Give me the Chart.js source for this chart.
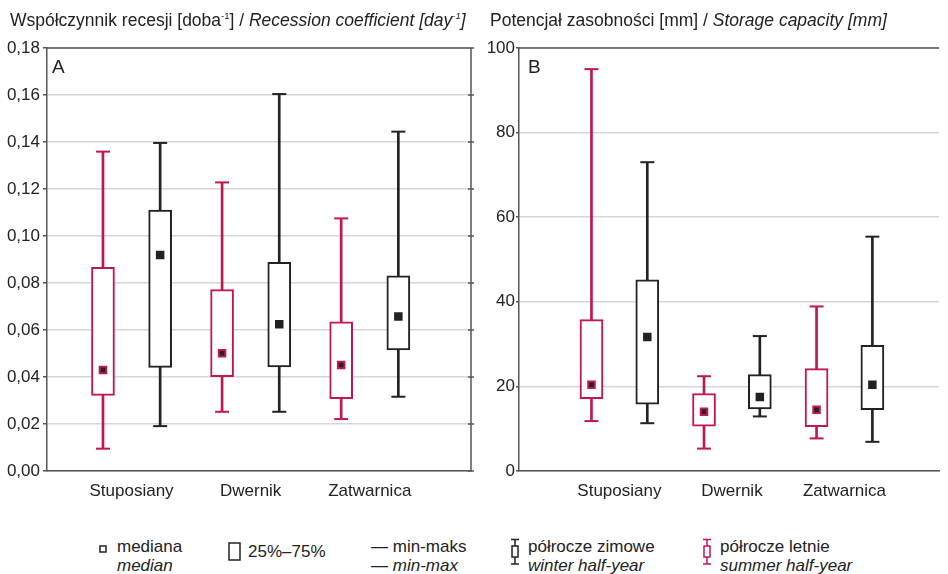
<!DOCTYPE html>
<html>
<head>
<meta charset="utf-8">
<script src="https://cdn.jsdelivr.net/npm/chart.js@4.4.1/dist/chart.umd.min.js"></script>
<style>
  body { margin: 0; background: #fff; font-family: "Liberation Sans", Arial, sans-serif; color: #222; }
  #page { position: relative; width: 948px; height: 574px; overflow: hidden; }
  .panel { position: absolute; top: 0; height: 515px; }
  .title { position: absolute; top: 10px; font-size: 17.5px; white-space: nowrap; }
  .title sup { font-size: 9.5px; vertical-align: 7px; line-height: 0; }
  .letter { position: absolute; top: 56px; font-size: 19px; }
  .leg { position: absolute; font-size: 17px; line-height: 19px; white-space: nowrap; }
</style>
</head>
<body>
<div id="page">
  <div class="panel" style="left:0;width:480px"><canvas id="chartA"></canvas></div>
  <div class="panel" style="left:480px;width:468px"><canvas id="chartB"></canvas></div>

  <div class="title" style="left:10px">Współczynnik recesji [doba<sup>-1</sup>] / <i>Recession coefficient [day<sup>-1</sup>]</i></div>
  <div class="title" style="left:490px">Potencjał zasobności [mm] / <i>Storage capacity [mm]</i></div>
  <div class="letter" style="left:52px">A</div>
  <div class="letter" style="left:528px">B</div>

  <!-- legend -->
  <svg style="position:absolute;left:99px;top:545px" width="9" height="9"><rect x="1" y="1" width="6" height="6" fill="#fff" stroke="#222" stroke-width="1.5"/></svg>
  <div class="leg" style="left:117px;top:537px">mediana<br><i>median</i></div>
  <svg style="position:absolute;left:228px;top:542px" width="14" height="20"><rect x="1" y="1" width="11" height="17" fill="#fff" stroke="#222" stroke-width="1.5"/></svg>
  <div class="leg" style="left:248px;top:542px">25%–75%</div>
  <div class="leg" style="left:371px;top:537px">— min-maks<br>— <i>min-max</i></div>
  <svg style="position:absolute;left:509px;top:538px" width="12" height="28"><path d="M2 1.5H10M6 1.5V8M6 19V26M2 26H10" stroke="#222" stroke-width="1.5" fill="none"/><rect x="3" y="8" width="6" height="11" fill="#fff" stroke="#222" stroke-width="1.5"/></svg>
  <div class="leg" style="left:528px;top:537px">półrocze zimowe<br><i>winter half-year</i></div>
  <svg style="position:absolute;left:701px;top:538px" width="12" height="28"><path d="M2 1.5H10M6 1.5V8M6 19V26M2 26H10" stroke="#c0174d" stroke-width="1.5" fill="none"/><rect x="3" y="8" width="6" height="11" fill="#fff" stroke="#c0174d" stroke-width="1.5"/></svg>
  <div class="leg" style="left:720px;top:537px">półrocze letnie<br><i>summer half-year</i></div>
</div>

<script>
const categories = ['Stuposiany', 'Dwernik', 'Zatwarnica'];

// A: recession coefficient [1/day]
const recSummerMin = [0.0095, 0.0252, 0.0221];
const recSummerQ1  = [0.0322, 0.0401, 0.0308];
const recSummerMed = [0.0430, 0.0501, 0.0451];
const recSummerQ3  = [0.0867, 0.0772, 0.0635];
const recSummerMax = [0.1359, 0.1228, 0.1075];
const recWinterMin = [0.0191, 0.0252, 0.0316];
const recWinterQ1  = [0.0441, 0.0443, 0.0515];
const recWinterMed = [0.0919, 0.0624, 0.0657];
const recWinterQ3  = [0.1110, 0.0888, 0.0831];
const recWinterMax = [0.1396, 0.1604, 0.1444];
const recTicks = [0, 0.02, 0.04, 0.06, 0.08, 0.10, 0.12, 0.14, 0.16, 0.18];

// B: storage capacity [mm]
const stoSummerMin = [11.8, 5.3, 7.7];
const stoSummerQ1  = [17.1, 10.6, 10.5];
const stoSummerMed = [20.4, 14.0, 14.5];
const stoSummerQ3  = [35.8, 18.3, 24.2];
const stoSummerMax = [95.0, 22.4, 38.9];
const stoWinterMin = [11.3, 12.9, 6.9];
const stoWinterQ1  = [15.8, 14.7, 14.5];
const stoWinterMed = [31.7, 17.5, 20.4];
const stoWinterQ3  = [45.2, 22.8, 29.7];
const stoWinterMax = [73.0, 31.9, 55.4];
const stoTicks = [0, 20, 40, 60, 80, 100];

const RED = '#c0174d';
const DARK = '#222';
const FONT = "'Liberation Sans', Arial, sans-serif";

// one box plot series -> 4 datasets (whisker, box, caps, median)
function boxSeries(off, mins, q1, med, q3, maxs, color, medFill) {
  const pos = i => i + 1 + off;
  return [
    {
      type: 'bar', order: 3, grouped: false, barThickness: 2,
      backgroundColor: color, borderWidth: 0,
      data: categories.map((c, i) => ({ x: pos(i), y: [mins[i], maxs[i]] }))
    },
    {
      type: 'bar', order: 2, grouped: false, barThickness: 23,
      backgroundColor: '#fff', borderColor: color, borderWidth: 2, borderSkipped: false,
      data: categories.map((c, i) => ({ x: pos(i), y: [q1[i], q3[i]] }))
    },
    {
      type: 'scatter', order: 1, pointStyle: 'line', pointRadius: 7,
      borderColor: color, pointBorderWidth: 2,
      data: categories.map((c, i) => ({ x: pos(i), y: mins[i] }))
        .concat(categories.map((c, i) => ({ x: pos(i), y: maxs[i] })))
    },
    {
      type: 'scatter', order: 0, pointStyle: 'rect', pointRadius: 4.6,
      backgroundColor: medFill, borderColor: color, pointBorderWidth: 2,
      data: categories.map((c, i) => ({ x: pos(i), y: med[i] }))
    }
  ];
}

// top (and right) frame lines
const framePlugin = {
  id: 'frame',
  afterDraw(chart, args, opts) {
    const { ctx, chartArea: { left, top, right, bottom } } = chart;
    ctx.save();
    ctx.strokeStyle = '#555';
    ctx.lineWidth = 1.5;
    ctx.beginPath();
    ctx.moveTo(left, top);
    ctx.lineTo(right, top);
    if (opts.right) {
      ctx.lineTo(right, bottom);
      chart.scales.y.ticks.forEach(t => {
        const y = chart.scales.y.getPixelForValue(t.value);
        ctx.moveTo(right - 3, y);
        ctx.lineTo(right + 3, y);
      });
    }
    ctx.stroke();
    ctx.restore();
  }
};

function makeChart(id, opts) {
  return new Chart(document.getElementById(id), {
    type: 'bar',
    data: { datasets: opts.datasets },
    plugins: [framePlugin],
    options: {
      responsive: true,
      maintainAspectRatio: false,
      animation: false,
      events: [],
      layout: { padding: { top: 48, right: opts.padRight, left: 0, bottom: 0 } },
      plugins: {
        legend: { display: false },
        tooltip: { enabled: false },
        frame: { right: opts.frameRight }
      },
      scales: {
        x: {
          type: 'linear', min: opts.xMin, max: opts.xMax, offset: false,
          grid: { display: false },
          border: { color: '#555', width: 1.5 },
          afterBuildTicks: s => { s.ticks = categories.map((c, i) => ({ value: i + 1 })); },
          afterFit: s => { s.height = 44; },
          ticks: {
            padding: 2, color: DARK, font: { family: FONT, size: 17 },
            callback: v => categories[v - 1]
          }
        },
        y: {
          min: 0, max: opts.yMax,
          grid: { color: '#d6d6d6', lineWidth: 1.5, tickColor: '#555', tickLength: opts.tickLen },
          border: { color: '#555', width: 1.5 },
          afterBuildTicks: s => { s.ticks = opts.yTicks.map(v => ({ value: v })); },
          afterFit: s => { s.width = opts.yWidth; },
          ticks: {
            padding: opts.tickPad, color: DARK, font: { family: FONT, size: 17 },
            callback: opts.fmt
          }
        }
      }
    }
  });
}

makeChart('chartA', {
  datasets: boxSeries(-0.24, recSummerMin, recSummerQ1, recSummerMed, recSummerQ3, recSummerMax, RED, DARK)
    .concat(boxSeries(0.24, recWinterMin, recWinterQ1, recWinterMed, recWinterQ3, recWinterMax, DARK, DARK)),
  xMin: 0.29, xMax: 3.85, yMax: 0.18, yTicks: recTicks,
  padRight: 9, frameRight: true, yWidth: 47, tickLen: 4, tickPad: 3,
  fmt: v => v.toFixed(2).replace('.', ',')
});

makeChart('chartB', {
  datasets: boxSeries(-0.248, stoSummerMin, stoSummerQ1, stoSummerMed, stoSummerQ3, stoSummerMax, RED, DARK)
    .concat(boxSeries(0.248, stoWinterMin, stoWinterQ1, stoWinterMed, stoWinterQ3, stoWinterMax, DARK, DARK)),
  xMin: 0.108, xMax: 3.84, yMax: 100, yTicks: stoTicks,
  padRight: 0, frameRight: false, yWidth: 39, tickLen: 3, tickPad: 1,
  fmt: v => String(v)
});
</script>
</body>
</html>
